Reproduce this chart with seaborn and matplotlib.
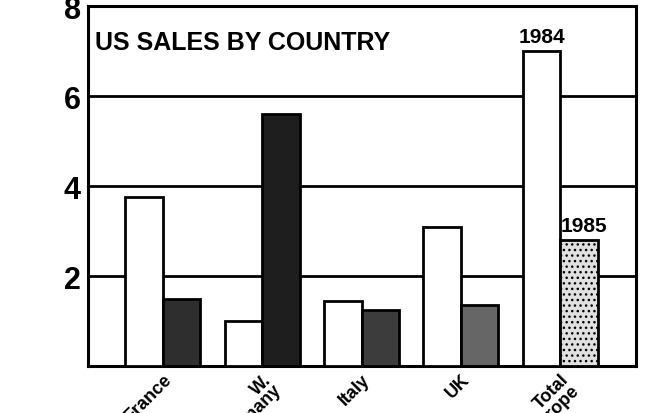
import matplotlib
matplotlib.use("Agg")
import matplotlib.pyplot as plt
import seaborn as sns
import pandas as pd

countries = ["France", "W.\nGermany", "Italy", "UK", "Total\nEurope"]
years = ["1984", "1985"]
sales_1984 = [3.75, 1.0, 1.45, 3.1, 7.0]
sales_1985 = [1.5, 5.6, 1.25, 1.35, 2.8]
y_ticks = [2, 4, 6, 8]
fill_1985 = ["#2e2e2e", "#1e1e1e", "#3c3c3c", "#666666", "#e0e0e0"]

df = pd.DataFrame({
    "country": countries * 2,
    "year": ["1984"] * len(countries) + ["1985"] * len(countries),
    "sales": sales_1984 + sales_1985,
})

sns.set_theme(style="white")
plt.rcParams["font.family"] = ["DejaVu Sans Condensed", "Liberation Sans Narrow",
                               "Liberation Sans", "DejaVu Sans"]
plt.rcParams["text.color"] = "black"
plt.rcParams["xtick.color"] = "black"
plt.rcParams["ytick.color"] = "black"

fig = plt.figure(figsize=(6.56, 4.14), dpi=100)
ax = fig.add_axes([0.134, 0.113, 0.836, 0.870])

sns.barplot(data=df, x="country", y="sales", hue="year", hue_order=years,
            order=countries, palette=["white", "#333333"], width=0.755,
            edgecolor="black", linewidth=2, legend=False, ax=ax, zorder=3)

bars = ax.patches
n = len(countries)
for i, p in enumerate(bars[n:2 * n]):
    p.set_facecolor(fill_1985[i])
bars[2 * n - 1].set_hatch("...")

ax.set_ylim(0, 8)
ax.set_xlim(-0.755, 4.765)
ax.set_yticks(y_ticks)
ax.set_yticklabels([str(t) for t in y_ticks], fontsize=22, fontweight="bold")
for t in y_ticks[:-1]:
    ax.axhline(t, color="black", lw=2, zorder=1)
ax.tick_params(axis="y", length=0, pad=5)
ax.tick_params(axis="x", length=0, pad=3)
ax.set_xticks(range(n))
ax.set_xticklabels(countries, rotation=45, ha="right", rotation_mode="anchor",
                   fontsize=13, fontweight="bold", linespacing=0.85)
ax.set_xlabel("")
ax.set_ylabel("")
for s in ax.spines.values():
    s.set_color("black")
    s.set_linewidth(2.2)
    s.set_visible(True)

ax.text(-0.685, 7.2, "US SALES BY COUNTRY", fontsize=18, fontweight="bold",
        ha="left", va="center")

p84 = bars[n - 1]
p85 = bars[2 * n - 1]
ax.text(p84.get_x() + p84.get_width() / 2, sales_1984[-1] + 0.12, "1984",
        ha="center", va="bottom", fontsize=15, fontweight="bold")
ax.text(p85.get_x() + p85.get_width() / 2 + 0.05, sales_1985[-1] + 0.12, "1985",
        ha="center", va="bottom", fontsize=15, fontweight="bold")

fig.savefig("out.png", dpi=100, facecolor="white")
